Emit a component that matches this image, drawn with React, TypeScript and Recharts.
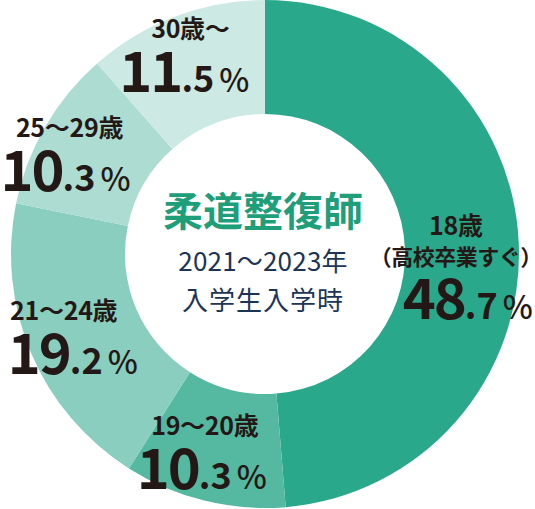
import React from 'react';
import { PieChart, Pie, Cell } from 'recharts';

const categories = ['18歳', '19〜20歳', '21〜24歳', '25〜29歳', '30歳〜'];
const subLabels = ['（高校卒業すぐ）', '', '', '', ''];
const shares = [48.7, 10.3, 19.2, 10.3, 11.5];
const colors = ['#29a88b', '#55b9a1', '#89cebf', '#acdcd2', '#cce9e3'];

// label nudges from the ring's middle: [dx, dy, number dx]
const labelNudge = [
  [-6, -11, 12],
  [-13, -10, -3],
  [-20, -11, 9],
  [-25, -18, -4],
  [-5, -32, -6],
];

const FONT = "'Noto Sans CJK JP', 'Noto Sans', sans-serif";
const INK = '#231815';
const RAD = Math.PI / 180;

const data = categories.map((name, i) => ({ name, value: shares[i] }));

const renderLabel = (props: any) => {
  const { cx, cy, midAngle, innerRadius, outerRadius, index } = props;
  const r = (innerRadius + outerRadius) / 2;
  const [ndx, ndy, numDx] = labelNudge[index];
  const x = cx + r * Math.cos(-midAngle * RAD) + ndx;
  const y = cy + r * Math.sin(-midAngle * RAD) + ndy;
  const sub = subLabels[index];
  const [whole, dec] = shares[index].toFixed(1).split('.');
  const numY = y + (sub ? 30 : 0) + 54;
  return (
    <g>
      <text x={x} y={y} textAnchor="middle" fontFamily={FONT} fontSize={25} fontWeight={700} fill={INK} letterSpacing={-0.3}>
        {categories[index]}
      </text>
      {sub && (
        <text x={x} y={y + 30} textAnchor="middle" fontFamily={FONT} fontSize={22} fontWeight={700} fill={INK} letterSpacing={-0.5}>
          {sub}
        </text>
      )}
      <text x={x + numDx} y={numY} textAnchor="middle" fontFamily={FONT} fill={INK}>
        <tspan fontSize={56} fontWeight={700} letterSpacing={-2}>{whole}</tspan>
        <tspan fontSize={36} fontWeight={700}>.{dec}</tspan>
        <tspan fontSize={32} fontWeight={500} dx={5}>%</tspan>
      </text>
    </g>
  );
};

const App = () => {
  return (
    <div style={{ position: 'absolute', left: 0, top: 0, width: 535, height: 509, background: '#fff' }}>
      <PieChart width={535} height={509} margin={{ top: 0, right: 0, bottom: 0, left: 0 }}>
        <Pie
          data={data}
          dataKey="value"
          nameKey="name"
          cx={265}
          cy={254}
          innerRadius={140}
          outerRadius={254}
          startAngle={90}
          endAngle={-270}
          stroke="none"
          label={renderLabel}
          labelLine={false}
          isAnimationActive={false}
        >
          {data.map((d, i) => (
            <Cell key={d.name} fill={colors[i]} />
          ))}
        </Pie>
      </PieChart>
      <svg width={535} height={509} style={{ position: 'absolute', left: 0, top: 0, pointerEvents: 'none' }}>
        <text x={263} y={226} textAnchor="middle" fontFamily={FONT} fontSize={40} fontWeight={700} fill="#1f9e7a">
          柔道整復師
        </text>
        <text x={263} y={271} textAnchor="middle" fontFamily={FONT} fontSize={26} fill="#1c3557" letterSpacing={0.2}>
          2021〜2023年
        </text>
        <text x={263} y={310} textAnchor="middle" fontFamily={FONT} fontSize={26} fill="#1c3557" letterSpacing={1}>
          入学生入学時
        </text>
      </svg>
    </div>
  );
};

export default App;
